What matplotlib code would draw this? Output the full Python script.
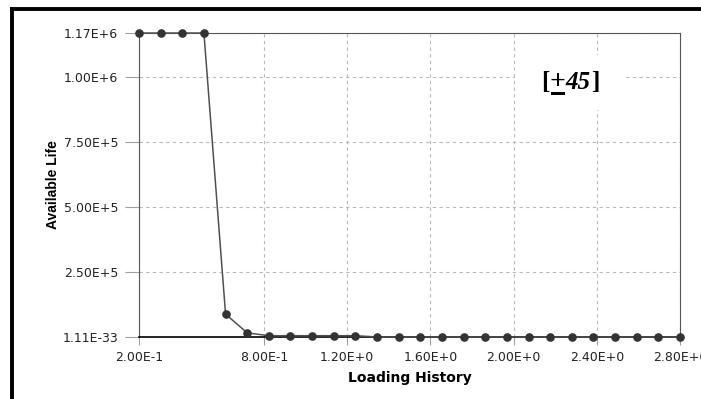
import matplotlib.pyplot as plt
from matplotlib.lines import Line2D
from matplotlib.patches import Rectangle
from matplotlib.offsetbox import TextArea, HPacker, AnnotationBbox

# loading history steps and available life at each step
loading = [0.2, 0.304, 0.408, 0.512, 0.616, 0.72, 0.824, 0.928, 1.032, 1.136,
           1.24, 1.344, 1.448, 1.552, 1.656, 1.76, 1.864, 1.968, 2.072, 2.176,
           2.28, 2.384, 2.488, 2.592, 2.696, 2.8]
life = [1.17e6, 1.17e6, 1.17e6, 1.17e6, 8.8e4, 1.6e4, 5e3, 5e3, 5e3, 5e3,
        5e3, 0, 0, 0, 0, 0, 0, 0, 0, 0,
        0, 0, 0, 0, 0, 0]

xticks = [0.2, 0.8, 1.2, 1.6, 2.0, 2.4, 2.8]
xlabels = ["2.00E-1", "8.00E-1", "1.20E+0", "1.60E+0", "2.00E+0", "2.40E+0", "2.80E+0"]
yticks = [1.11e-33, 2.5e5, 5e5, 7.5e5, 1e6, 1.17e6]
ylabels = ["1.11E-33", "2.50E+5", "5.00E+5", "7.50E+5", "1.00E+6", "1.17E+6"]

fig = plt.figure(figsize=(7.01, 3.99), dpi=100)
ax = fig.add_axes([139/701, 1-337/399, 541/701, 304/399])

ax.plot(loading, life, color='#505050', lw=1.1, marker='o', ms=5.2,
        mfc='#333333', mec='#333333', clip_on=False, zorder=5)

ax.set_xlim(0.2, 2.8)
ax.set_ylim(0, 1.17e6)
ax.set_xticks(xticks)
ax.set_xticklabels(xlabels)
ax.set_yticks(yticks)
ax.set_yticklabels(ylabels)
ax.tick_params(axis='y', length=10, pad=5, color='#a0a0a0', labelsize=9, labelcolor='#222222')
ax.tick_params(axis='x', length=6, pad=4, color='#a0a0a0', labelsize=9, labelcolor='#222222')
ax.grid(True, ls=(0, (3, 3)), color='#b8b8b8', lw=0.8)
for s in ['left', 'top', 'right']:
    ax.spines[s].set_color('#555555')
ax.spines['bottom'].set_color('black')
ax.spines['bottom'].set_linewidth(1.2)

ax.set_xlabel("Loading History", fontsize=10, fontweight='bold', labelpad=5)
ax.set_ylabel("Available Life", fontsize=10, fontweight='bold', labelpad=2,
              family=['Liberation Sans Narrow', 'Liberation Sans'])

# white patch behind the ply label
ax.add_patch(Rectangle((0.695, 0.747), 0.2, 0.181, transform=ax.transAxes,
                       facecolor='white', edgecolor='none', zorder=3))
fp = dict(family='Liberation Serif', fontweight='bold', fontsize=18, color='black')
plus = TextArea("+", textprops=dict(fp, fontsize=20))
parts = [TextArea("[", textprops=fp),
         plus,
         TextArea("45", textprops=dict(fp, style='italic')),
         TextArea("]", textprops=fp)]
box = HPacker(children=parts, pad=0, sep=0, align='baseline')
ab = AnnotationBbox(box, (0.797, 0.836), xycoords='axes fraction', frameon=False, zorder=4)
ax.add_artist(ab)

# underline under the plus sign
fig.canvas.draw()
bb = plus.get_window_extent(fig.canvas.get_renderer())
inv = fig.transFigure.inverted()
(x0, y0), (x1, y1) = inv.transform([(bb.x0 + 1, bb.y0 + 0.5), (bb.x1 - 1, bb.y0 + 3.5)])
fig.add_artist(Rectangle((x0, y0), x1 - x0, y1 - y0, transform=fig.transFigure,
                         facecolor='black', edgecolor='none', zorder=6))

# outer frame (left and top edges)
fig.add_artist(Line2D([11.5/701, 11.5/701], [0, 1-8.5/399], color='black', lw=2.8,
                      transform=fig.transFigure))
fig.add_artist(Line2D([11.5/701, 1], [1-8.5/399, 1-8.5/399], color='black', lw=2.8,
                      transform=fig.transFigure))

fig.savefig("out.png", dpi=100)
